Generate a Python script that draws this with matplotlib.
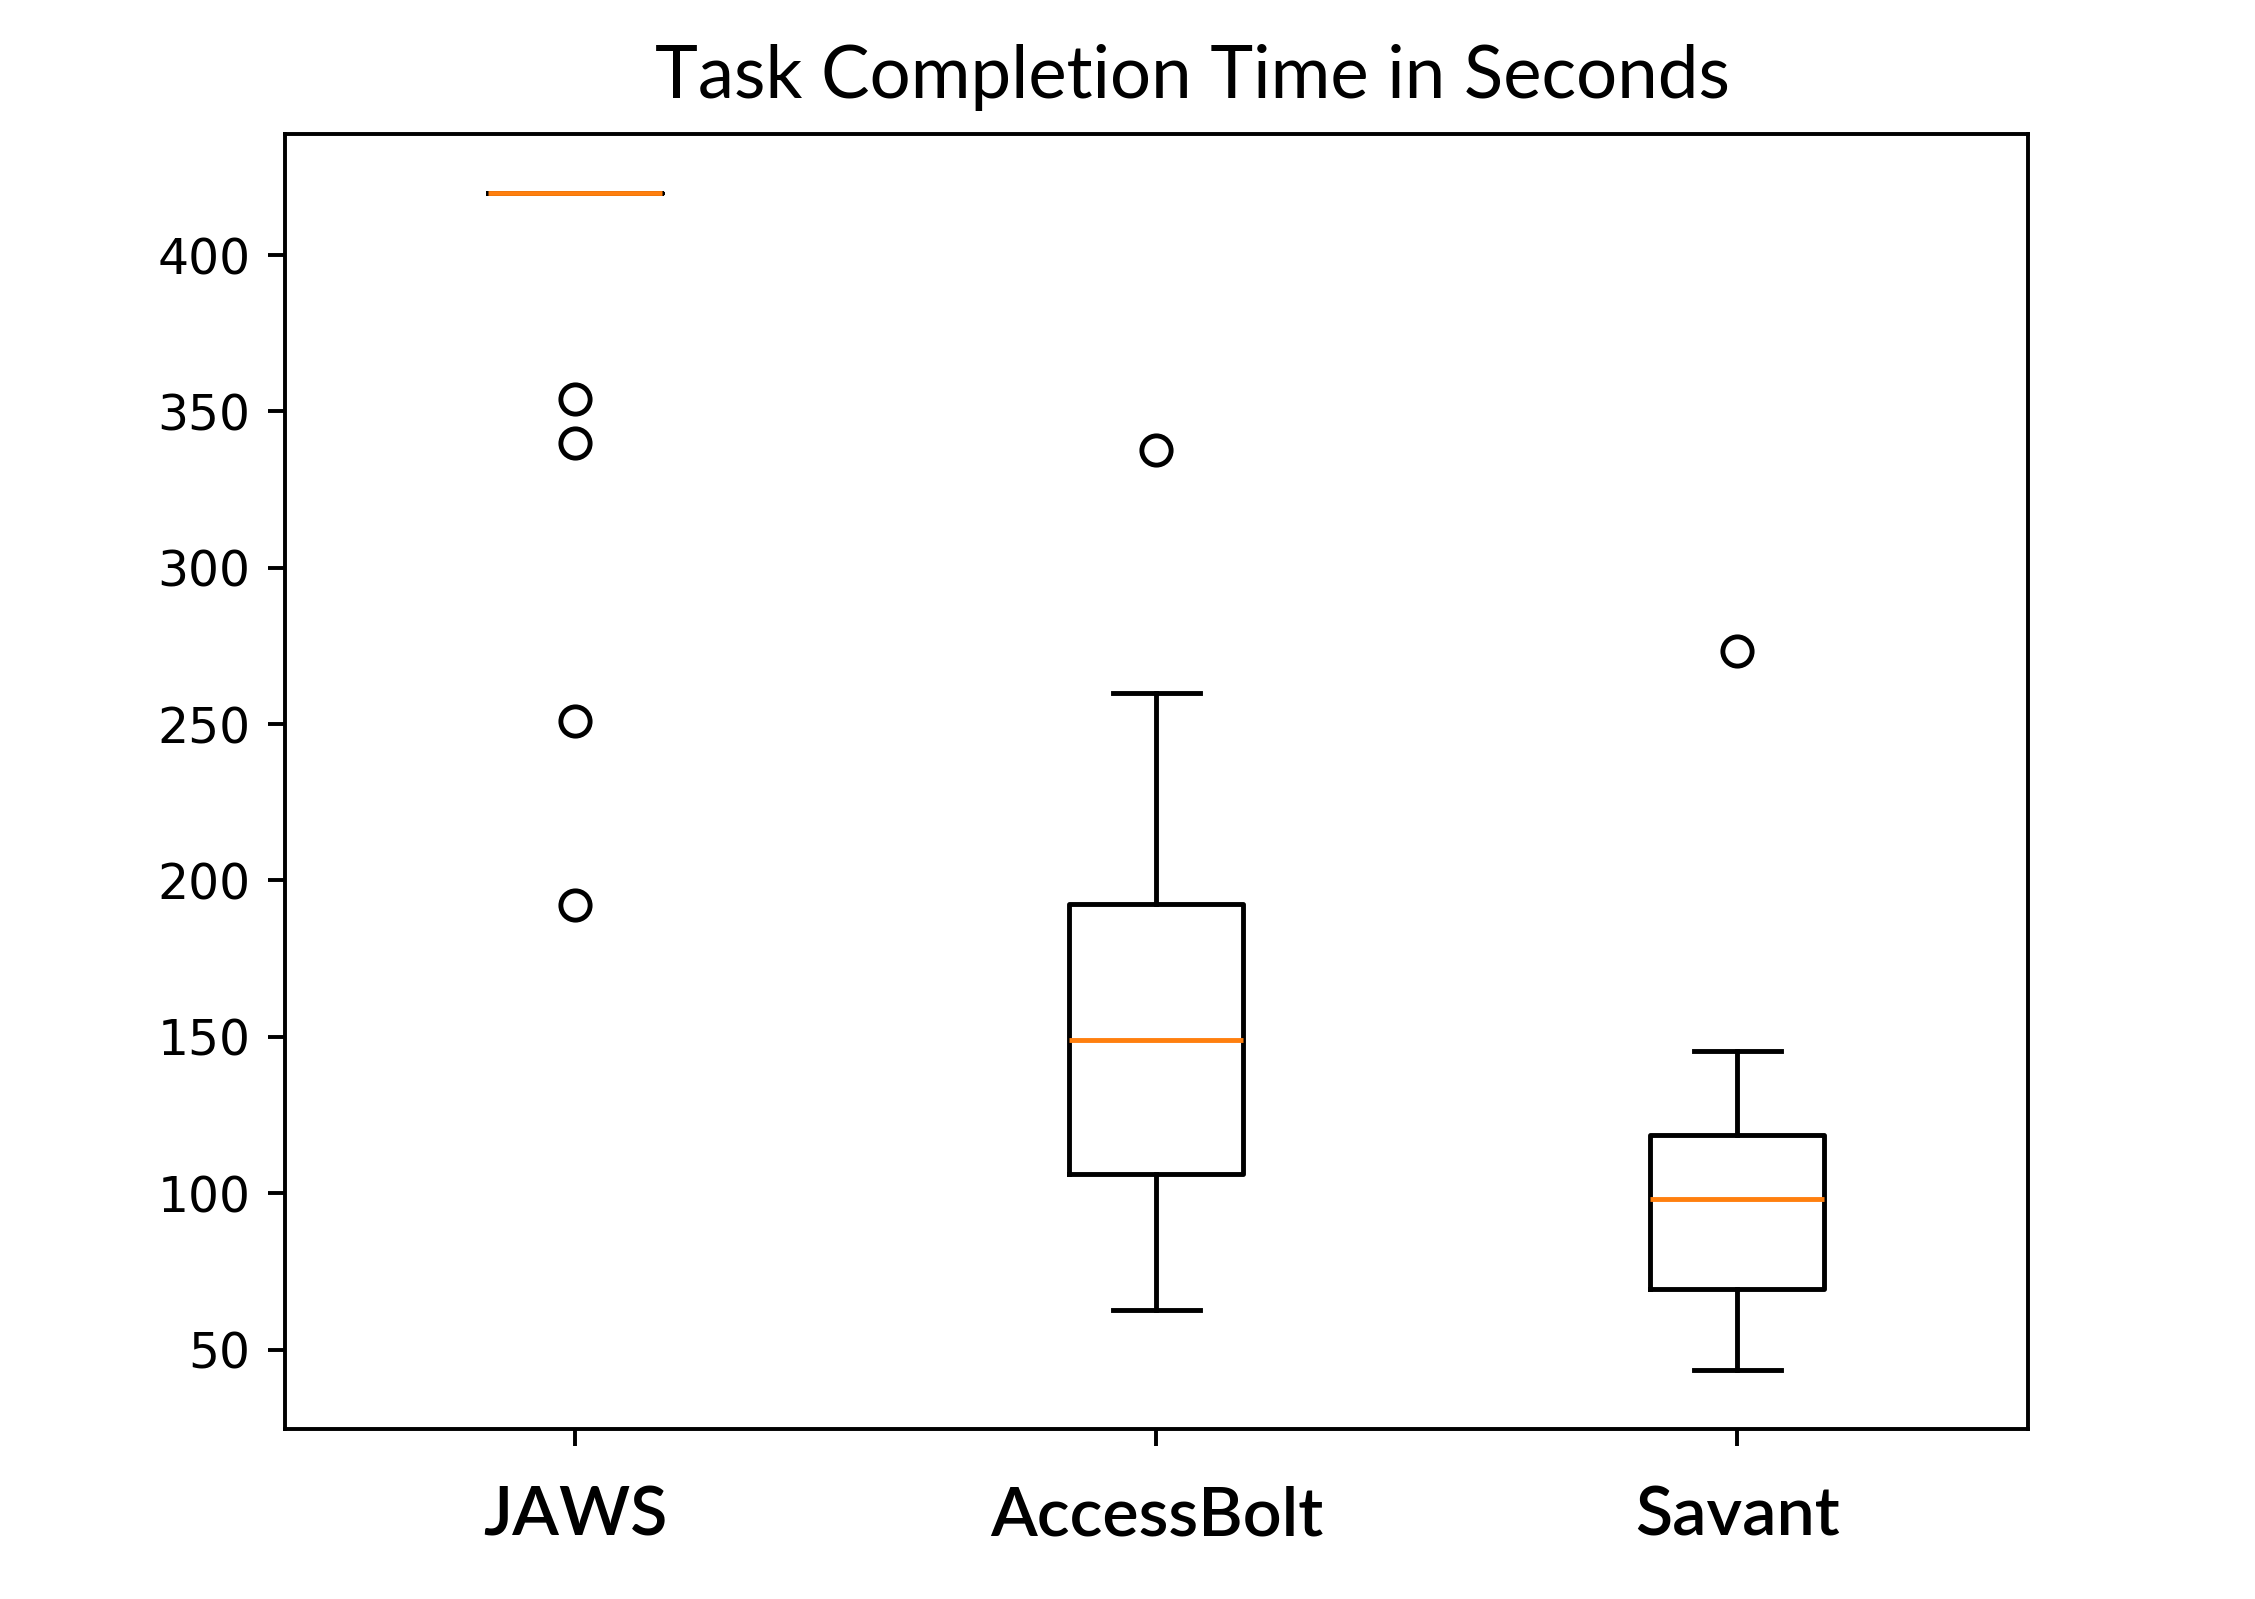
import matplotlib
matplotlib.use("Agg")
import matplotlib.pyplot as plt

# box statistics (seconds)
labels = ["JAWS", "AccessBolt", "Savant"]
medians = [420, 149, 98]
q1 = [420, 106, 69.5]
q3 = [420, 192.5, 118.5]
whis_lo = [420, 62.5, 43.3]
whis_hi = [420, 260, 145.6]
fliers = [[354, 340, 251, 192], [337.6], [273.3]]


def build_stats():
    stats = []
    for i, name in enumerate(labels):
        stats.append({
            "label": name,
            "med": medians[i],
            "q1": q1[i],
            "q3": q3[i],
            "whislo": whis_lo[i],
            "whishi": whis_hi[i],
            "fliers": fliers[i],
        })
    return stats


DPI = 351
fig = plt.figure(figsize=(2255 / DPI, 1599 / DPI), dpi=DPI)
ax = fig.add_axes([0.1263, 0.1061, 0.7729, 0.8103])

ax.bxp(build_stats(), showfliers=True)

ax.tick_params(axis="x", pad=8)
for lbl in ax.get_xticklabels():
    lbl.set_family("Lato")
    lbl.set_fontsize(14)
    lbl.set_fontweight("semibold")

fig.text(0.5287, 0.9388, "Task Completion Time in Seconds", ha="center",
         va="baseline", family="Lato", fontsize=14.9)

fig.savefig("out.png", dpi=DPI)
